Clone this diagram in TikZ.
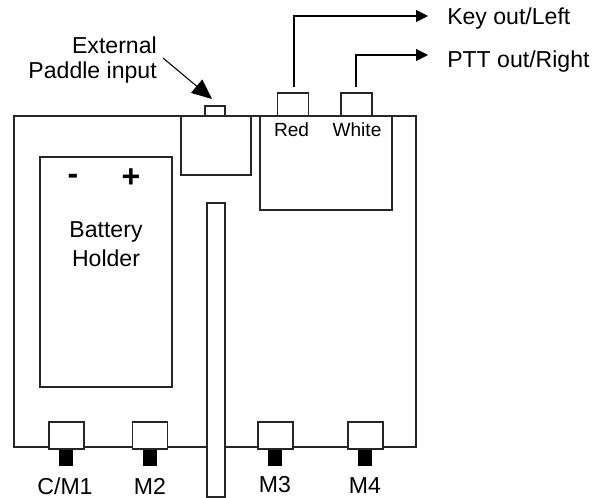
\documentclass[tikz,border=0pt]{standalone}
\usepackage{fontspec}
\setmainfont{Liberation Sans}
\usetikzlibrary{arrows.meta}
\tikzset{
  px/.style={x=0.75pt,y=-0.75pt},
  box/.style={draw=black!85,fill=white,line width=0.8pt,inner sep=0pt,outer sep=0pt,anchor=north west},
  sz/.style 2 args={minimum width=#1*0.75pt,minimum height=#2*0.75pt},
  blk/.style={fill=black,draw=none,inner sep=0pt,outer sep=0pt,anchor=north west},
  lbl/.style={inner sep=0pt,font=\fontsize{#1}{#1}\selectfont,text=black},
  lbl/.default=17.3,
  sign/.style={font=\bfseries\fontsize{24}{24}\selectfont,inner sep=0pt},
  arr/.style={line width=0.8pt,draw=black,-{Triangle[length=9pt,width=9pt]}},
  bigarr/.style={line width=0.8pt,draw=black,-{Triangle[length=15pt,width=13pt]}}
}
\begin{document}
\begin{tikzpicture}[px]
\useasboundingbox (0,0) rectangle (594,498);
\node[box,sz={402}{331}] (main) at (14,116) {};
\node[box,sz={20}{10}] (nub) at (205,106) {};
\node[box,sz={70}{59}] (paddle) at (181,116) {};
\node[box,sz={31}{23}] (redc) at (277.5,93) {};
\node[box,sz={31}{23}] (whitec) at (341,93) {};
\node[box,sz={132}{94}] (jack) at (260,116) {};
\node[box,sz={132}{230}] (batt) at (40,157) {};
\node[box,sz={18}{294}] (strip) at (207,203) {};
% black stems
\node[blk,sz={14}{17}] (s1) at (59,449) {};
\node[blk,sz={14}{17}] (s2) at (143,449) {};
\node[blk,sz={14}{17}] (s3) at (268,449) {};
\node[blk,sz={14}{17}] (s4) at (358,449) {};
% buttons
\node[box,sz={35}{27}] (b1) at (49,422) {};
\node[box,sz={35}{27}] (b2) at (132.5,422) {};
\node[box,sz={35}{27}] (b3) at (258,422) {};
\node[box,sz={35}{27}] (b4) at (348,422) {};
% texts
\node[lbl=17.3,anchor=east] (ext) at (157,45) {External};
\node[lbl=17.3,anchor=east] (pad) at (157,73) {Paddle input};
\node[lbl=17.3,anchor=west] (key) at (447,19) {Key out/Left};
\node[lbl=17.3,anchor=west] (ptt) at (447,62) {PTT out/Right};
\node[lbl=14.3] (red) at (291.5,130) {Red};
\node[lbl=14.3] (white) at (357,130) {White};
\node[lbl=17.3] (bat) at (106,232) {Battery};
\node[lbl=17.3] (hol) at (106,258.5) {Holder};
\node[sign] (minus) at (73,179) {-};
\node[sign] (plus) at (131,178) {+};
\node[lbl=17.3] (m1) at (65,486.5) {C/M1};
\node[lbl=17.3] (m2) at (150,486.5) {M2};
\node[lbl=17.3] (m3) at (275,485) {M3};
\node[lbl=17.3] (m4) at (365,486) {M4};
% connectors
\coordinate (redstart) at (294,87);
\coordinate (whitestart) at (356,87);
\coordinate (keyend) at (428,16);
\coordinate (pttend) at (428,55);
\coordinate (extstart) at (163,58);
\coordinate (extend) at (212,99);
\draw[arr] (redstart) |- (keyend);
\draw[arr] (whitestart) |- (pttend);
\draw[bigarr] (extstart) -- (extend);
\end{tikzpicture}
\end{document}
